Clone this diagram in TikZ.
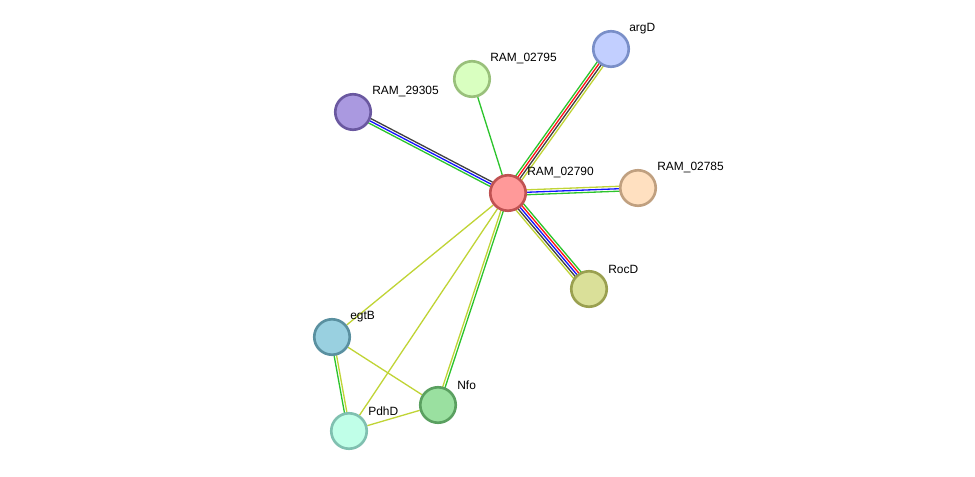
\documentclass[tikz,border=0pt]{standalone}
\usepackage{fontspec}
\setmainfont{Liberation Sans}
\usepackage{tikz}
\usetikzlibrary{calc, backgrounds}
\definecolor{lnyellow}{RGB}{192, 212, 54}
\definecolor{lngreen}{RGB}{44, 196, 44}
\definecolor{lnred}{RGB}{255, 20, 20}
\definecolor{lnblue}{RGB}{20, 20, 255}
\definecolor{lngray}{RGB}{64, 64, 64}
\newcommand{\strline}[4]{\draw[ln, #4] ($(#1)!#3!90:(#2)$) -- ($(#2)!#3!-90:(#1)$);}

\begin{document}
\begin{tikzpicture}[
    x=0.02cm, y=-0.02cm,
    prot/.style={circle, minimum size=0.71cm, inner sep=0pt, line width=1.5pt},
    lbl/.style={anchor=west, inner sep=0pt, font=\fontsize{6.8}{8}\selectfont},
    ln/.style={line width=0.75pt}
  ]
    \useasboundingbox (0,0) rectangle (975,477);

    \node[prot, draw={rgb,255:red,192;green,82;blue,82}, fill={rgb,255:red,255;green,153;blue,153}] (hub) at (508,193) {};
    \node[prot, draw={rgb,255:red,122;green,143;blue,200}, fill={rgb,255:red,194;green,207;blue,255}] (argD) at (611,49) {};
    \node[prot, draw={rgb,255:red,153;green,192;blue,123}, fill={rgb,255:red,217;green,255;blue,192}] (r02795) at (472,79) {};
    \node[prot, draw={rgb,255:red,106;green,88;blue,160}, fill={rgb,255:red,170;green,153;blue,224}] (r29305) at (353,112) {};
    \node[prot, draw={rgb,255:red,192;green,160;blue,128}, fill={rgb,255:red,255;green,224;blue,192}] (r02785) at (638,188) {};
    \node[prot, draw={rgb,255:red,154;green,160;blue,80}, fill={rgb,255:red,218;green,224;blue,153}] (rocD) at (589,289) {};
    \node[prot, draw={rgb,255:red,90;green,144;blue,160}, fill={rgb,255:red,153;green,208;blue,224}] (egtB) at (332,337) {};
    \node[prot, draw={rgb,255:red,90;green,160;blue,96}, fill={rgb,255:red,154;green,224;blue,160}] (nfo) at (438,405) {};
    \node[prot, draw={rgb,255:red,128;green,192;blue,176}, fill={rgb,255:red,192;green,255;blue,232}] (pdhD) at (349,431) {};

    \node[lbl] (hub-l) at ($(hub)+(19,-20)$) {RAM\_02790};
    \node[lbl] (argD-l) at ($(argD)+(18,-20)$) {argD};
    \node[lbl] (r02795-l) at ($(r02795)+(18,-20)$) {RAM\_02795};
    \node[lbl] (r29305-l) at ($(r29305)+(19,-20)$) {RAM\_29305};
    \node[lbl] (r02785-l) at ($(r02785)+(19,-20)$) {RAM\_02785};
    \node[lbl] (rocD-l) at ($(rocD)+(19,-20)$) {RocD};
    \node[lbl] (egtB-l) at ($(egtB)+(18,-20)$) {egtB};
    \node[lbl] (nfo-l) at ($(nfo)+(19,-20)$) {Nfo};
    \node[lbl] (pdhD-l) at ($(pdhD)+(19,-20)$) {PdhD};

    \begin{scope}[on background layer]
    \strline{hub}{r29305}{1.4pt}{lngreen}
    \strline{hub}{r29305}{0pt}{lnblue}
    \strline{hub}{r29305}{-1.4pt}{lngray}

    \strline{hub}{argD}{2.1pt}{lngreen}
    \strline{hub}{argD}{0.7pt}{lnred}
    \strline{hub}{argD}{-0.7pt}{lngray}
    \strline{hub}{argD}{-2.1pt}{lnyellow}

    \strline{hub}{r02785}{1.4pt}{lnyellow}
    \strline{hub}{r02785}{0pt}{lnblue}
    \strline{hub}{r02785}{-1.4pt}{lngreen}

    \strline{hub}{rocD}{2.8pt}{lngreen}
    \strline{hub}{rocD}{1.4pt}{lnred}
    \strline{hub}{rocD}{0pt}{lnblue}
    \strline{hub}{rocD}{-1.4pt}{lngray}
    \strline{hub}{rocD}{-2.8pt}{lnyellow}

    \strline{hub}{nfo}{0.7pt}{lngreen}
    \strline{hub}{nfo}{-0.7pt}{lnyellow}

    \strline{egtB}{pdhD}{0.7pt}{lnyellow}
    \strline{egtB}{pdhD}{-0.7pt}{lngreen}

    \draw[ln, lngreen] (hub) -- (r02795);
    \draw[ln, lnyellow] (hub) -- (egtB);
    \draw[ln, lnyellow] (hub) -- (pdhD);
    \draw[ln, lnyellow] (egtB) -- (nfo);
    \draw[ln, lnyellow] (pdhD) -- (nfo);
    \end{scope}
  \end{tikzpicture}
\end{document}
